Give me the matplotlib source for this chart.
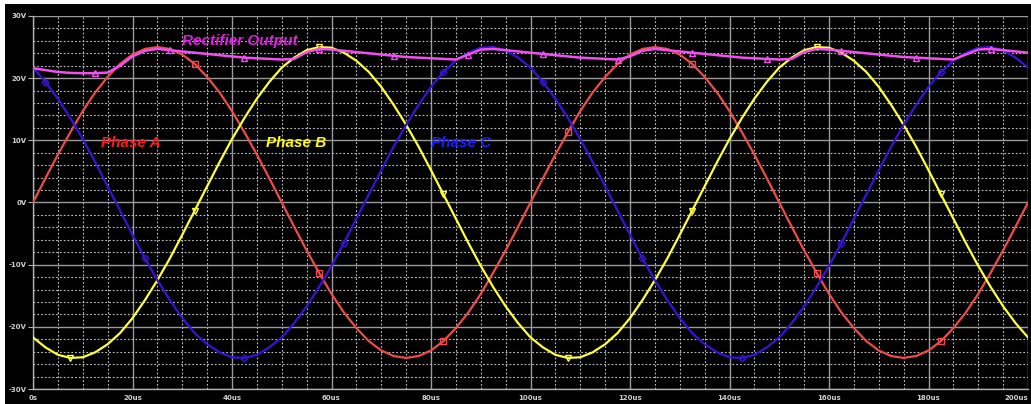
import matplotlib
matplotlib.use('Agg')
import matplotlib.pyplot as plt
from matplotlib.patches import Rectangle
from matplotlib.ticker import MultipleLocator

# simulation samples, time in us, voltages in V
t_us = [0, 2.5, 5, 7.5, 10, 12.5, 15, 17.5, 20, 22.5, 25, 27.5, 30, 32.5, 35, 37.5,
        40, 42.5, 45, 47.5, 50, 52.5, 55, 57.5, 60, 62.5, 65, 67.5, 70, 72.5, 75, 77.5,
        80, 82.5, 85, 87.5, 90, 92.5, 95, 97.5, 100, 102.5, 105, 107.5, 110, 112.5,
        115, 117.5, 120, 122.5, 125, 127.5, 130, 132.5, 135, 137.5, 140, 142.5, 145,
        147.5, 150, 152.5, 155, 157.5, 160, 162.5, 165, 167.5, 170, 172.5, 175, 177.5,
        180, 182.5, 185, 187.5, 190, 192.5, 195, 197.5, 200]
phase_a = [0, 3.9, 7.7, 11.3, 14.7, 17.7, 20.2, 22.3, 23.8, 24.7,
           25.0, 24.7, 23.8, 22.3, 20.2, 17.7, 14.7, 11.3, 7.7, 3.9,
           0, -3.9, -7.7, -11.3, -14.7, -17.7, -20.2, -22.3, -23.8, -24.7,
           -25.0, -24.7, -23.8, -22.3, -20.2, -17.7, -14.7, -11.3, -7.7, -3.9,
           0, 3.9, 7.7, 11.3, 14.7, 17.7, 20.2, 22.3, 23.8, 24.7,
           25.0, 24.7, 23.8, 22.3, 20.2, 17.7, 14.7, 11.3, 7.7, 3.9,
           0, -3.9, -7.7, -11.3, -14.7, -17.7, -20.2, -22.3, -23.8, -24.7,
           -25.0, -24.7, -23.8, -22.3, -20.2, -17.7, -14.7, -11.3, -7.7, -3.9,
           0]
phase_b = [-21.7, -23.3, -24.5, -25.0, -24.9, -24.1, -22.8, -21.0, -18.6, -15.7,
           -12.5, -9.0, -5.2, -1.3, 2.6, 6.5, 10.2, 13.6, 16.7, 19.4,
           21.7, 23.3, 24.5, 25.0, 24.9, 24.1, 22.8, 21.0, 18.6, 15.7,
           12.5, 9.0, 5.2, 1.3, -2.6, -6.5, -10.2, -13.6, -16.7, -19.4,
           -21.7, -23.3, -24.5, -25.0, -24.9, -24.1, -22.8, -21.0, -18.6, -15.7,
           -12.5, -9.0, -5.2, -1.3, 2.6, 6.5, 10.2, 13.6, 16.7, 19.4,
           21.7, 23.3, 24.5, 25.0, 24.9, 24.1, 22.8, 21.0, 18.6, 15.7,
           12.5, 9.0, 5.2, 1.3, -2.6, -6.5, -10.2, -13.6, -16.7, -19.4,
           -21.7]
phase_c = [21.7, 19.4, 16.7, 13.6, 10.2, 6.5, 2.6, -1.3, -5.2, -9.0,
           -12.5, -15.7, -18.6, -21.0, -22.8, -24.1, -24.9, -25.0, -24.5, -23.3,
           -21.7, -19.4, -16.7, -13.6, -10.2, -6.5, -2.6, 1.3, 5.2, 9.0,
           12.5, 15.7, 18.6, 21.0, 22.8, 24.1, 24.9, 25.0, 24.5, 23.3,
           21.7, 19.4, 16.7, 13.6, 10.2, 6.5, 2.6, -1.3, -5.2, -9.0,
           -12.5, -15.7, -18.6, -21.0, -22.8, -24.1, -24.9, -25.0, -24.5, -23.3,
           -21.7, -19.4, -16.7, -13.6, -10.2, -6.5, -2.6, 1.3, 5.2, 9.0,
           12.5, 15.7, 18.6, 21.0, 22.8, 24.1, 24.9, 25.0, 24.5, 23.3,
           21.7]
rect_out = [21.6, 21.3, 21.0, 20.85, 20.8, 20.8, 20.9, 22.0, 23.5, 24.4,
            24.7, 24.5, 24.3, 24.1, 23.9, 23.7, 23.5, 23.3, 23.2, 23.1,
            23.0, 23.1, 24.2, 24.7, 24.6, 24.4, 24.2, 24.0, 23.8, 23.6,
            23.4, 23.3, 23.2, 23.1, 23.0, 23.8, 24.6, 24.7, 24.5, 24.3,
            24.1, 23.9, 23.7, 23.5, 23.3, 23.2, 23.1, 23.0, 23.5, 24.4,
            24.7, 24.5, 24.3, 24.1, 23.9, 23.7, 23.5, 23.3, 23.2, 23.1,
            23.0, 23.1, 24.2, 24.7, 24.6, 24.4, 24.2, 24.0, 23.8, 23.6,
            23.4, 23.3, 23.2, 23.1, 23.0, 23.8, 24.6, 24.7, 24.5, 24.3,
            24.1]

x_ticks = [0, 20, 40, 60, 80, 100, 120, 140, 160, 180, 200]
x_labels = ['0s', '20us', '40us', '60us', '80us', '100us', '120us', '140us', '160us',
            '180us', '200us']
y_ticks = [-30, -20, -10, 0, 10, 20, 30]
y_labels = ['-30V', '-20V', '-10V', '0V', '10V', '20V', '30V']

W, H = 1031, 404
fig = plt.figure(figsize=(W / 100, H / 100), dpi=100)
fig.patch.set_facecolor('white')
# black probe window, small white margin at left/top
fig.patches.append(Rectangle((5 / W, 0), 1, 1 - 4 / H, transform=fig.transFigure,
                             facecolor='black', edgecolor='none', zorder=-5))

ax = fig.add_axes([33 / W, 1 - 389 / H, (1028 - 33) / W, (389 - 16) / H])
ax.set_facecolor('black')

ax.plot(t_us, phase_a, color='#ee4b4b', lw=1.6, marker='s', ms=4, mfc='none',
        mec='#ee4b4b', markevery=(13, 10), zorder=3)
ax.plot(t_us, phase_b, color='#ffff3c', lw=1.6, marker='v', ms=4, mfc='none',
        mec='#ffff3c', markevery=(3, 10), zorder=3)
ax.plot(t_us, phase_c, color='#3a12d6', lw=1.6, marker='D', ms=3.5, mfc='none',
        mec='#3a12d6', markevery=(1, 8), zorder=4)
ax.plot(t_us, rect_out, color='#f050f0', lw=1.8, marker='^', ms=4, mfc='none',
        mec='#f050f0', markevery=(5, 6), zorder=5)

ax.set_xlim(0, 200)
ax.set_ylim(-30, 30)
ax.set_xticks(x_ticks)
ax.set_xticklabels(x_labels)
ax.set_yticks(y_ticks)
ax.set_yticklabels(y_labels)
ax.get_xticklabels()[-1].set_ha('right')
ax.xaxis.set_minor_locator(MultipleLocator(5))
ax.yaxis.set_minor_locator(MultipleLocator(2))

ax.grid(which='major', color='#9a9a9a', lw=1.0, ls='-')
ax.grid(which='minor', color='#c0c0c0', lw=0.8, ls=(0, (1.6, 1.8)))
ax.set_axisbelow(True)

for s in ['top', 'right']:
    ax.spines[s].set_visible(False)
for s in ['left', 'bottom']:
    ax.spines[s].set_color('#b0b0b0')
    ax.spines[s].set_linewidth(1.0)

ax.tick_params(axis='both', which='minor', length=0)
ax.tick_params(axis='y', which='major', length=3.5, color='#b0b0b0', pad=1,
               labelsize=5, labelcolor='#d0d0d0')
ax.tick_params(axis='x', which='major', length=0, pad=4,
               labelsize=5, labelcolor='#d0d0d0')
for lab in ax.get_xticklabels() + ax.get_yticklabels():
    lab.set_fontweight('bold')

lbl = dict(fontsize=11, fontweight='bold', style='italic', family='Liberation Sans',
           ha='center', va='center', zorder=6)
ax.text(41.6, 26.0, 'Rectifier Output', color='#e020e0', **lbl)
ax.text(19.7, 9.6, 'Phase A', color='#ff1a1a', **lbl)
ax.text(52.9, 9.6, 'Phase B', color='#ffff00', **lbl)
ax.text(86.0, 9.6, 'Phase C', color='#1e1eff', **lbl)

fig.savefig('out.png', dpi=100, facecolor=fig.get_facecolor())
